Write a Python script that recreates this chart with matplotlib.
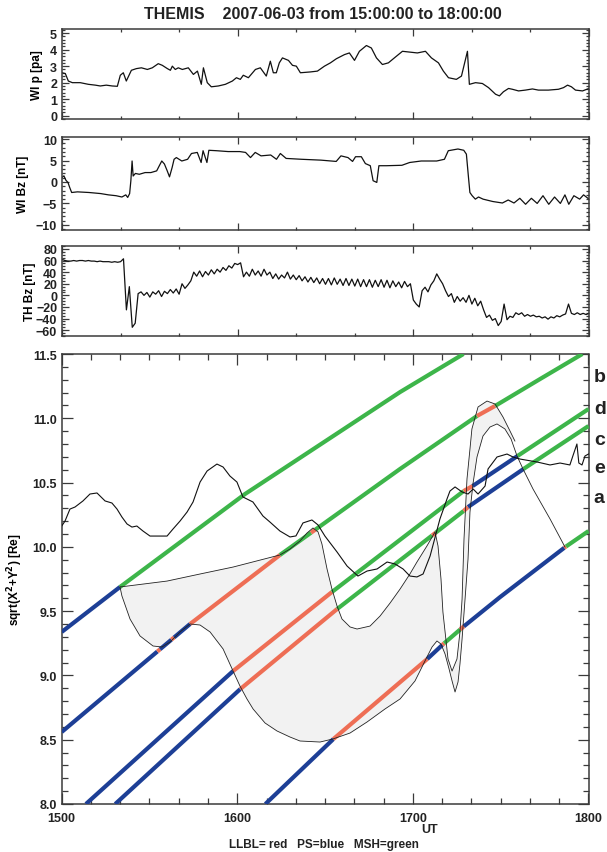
import numpy as np
import matplotlib
matplotlib.use('Agg')
import matplotlib.pyplot as plt
from matplotlib.ticker import MultipleLocator, FixedLocator

plt.rcParams['font.family'] = ['Liberation Sans', 'DejaVu Sans']
plt.rcParams['font.weight'] = 'bold'
plt.rcParams['axes.labelweight'] = 'bold'
plt.rcParams['mathtext.default'] = 'bf'
plt.rcParams['text.color'] = '#222222'
plt.rcParams['xtick.color'] = '#3a3a3a'
plt.rcParams['ytick.color'] = '#3a3a3a'
plt.rcParams['xtick.labelcolor'] = '#222222'
plt.rcParams['ytick.labelcolor'] = '#222222'

# ---------------- data (UT in decimal hours) ----------------
# Wind dynamic pressure [nPa]
p_t = [15.000, 15.019, 15.036, 15.059, 15.104, 15.150, 15.190, 15.218, 15.252, 15.286,
       15.315, 15.332, 15.349, 15.366, 15.395, 15.423, 15.452, 15.486, 15.514, 15.548,
       15.571, 15.600, 15.617, 15.628, 15.645, 15.662, 15.685, 15.719, 15.748, 15.771,
       15.793, 15.805, 15.827, 15.850, 15.890, 15.930, 15.970, 15.993, 16.015, 16.032,
       16.061, 16.101, 16.129, 16.163, 16.186, 16.203, 16.220, 16.237, 16.255, 16.289,
       16.312, 16.334, 16.357, 16.414, 16.454, 16.494, 16.528, 16.562, 16.608, 16.636,
       16.665, 16.693, 16.733, 16.761, 16.790, 16.824, 16.858, 16.892, 16.938, 17.023,
       17.069, 17.103, 17.143, 17.171, 17.200, 17.245, 17.274, 17.308, 17.319, 17.354,
       17.393, 17.428, 17.468, 17.490, 17.513, 17.542, 17.564, 17.599, 17.638, 17.678,
       17.712, 17.769, 17.826, 17.855, 17.878, 17.900, 17.923, 17.963, 18.000]
p_val = [2.6, 2.55, 2.1, 2.0, 2.0, 1.9, 1.85, 1.8, 1.85, 1.8,
         1.78, 2.45, 2.6, 2.1, 2.75, 2.85, 2.9, 2.8, 2.9, 3.15,
         3.05, 2.85, 2.75, 3.0, 2.8, 2.9, 2.8, 2.9, 2.5, 2.7,
         1.9, 2.9, 2.0, 1.75, 1.8, 1.9, 2.1, 2.3, 2.2, 2.45,
         2.3, 2.8, 2.9, 2.4, 3.3, 2.6, 2.6, 3.2, 3.5, 3.35,
         3.05, 3.0, 2.6, 2.65, 2.7, 3.0, 3.2, 3.45, 3.7, 3.8,
         3.35, 3.9, 4.25, 4.1, 3.5, 3.1, 3.2, 3.5, 3.9, 3.8,
         3.9, 3.5, 3.2, 2.7, 2.3, 2.2, 2.4, 3.9, 1.9, 2.0,
         1.95, 1.7, 1.3, 1.2, 1.45, 1.65, 1.6, 1.5, 1.55, 1.62,
         1.55, 1.55, 1.6, 1.7, 1.85, 1.75, 1.55, 1.5, 1.65]

# Wind Bz [nT]
wbz_t = [15.000, 15.011, 15.022, 15.034, 15.044, 15.055, 15.088, 15.154, 15.220, 15.264,
         15.308, 15.341, 15.363, 15.374, 15.385, 15.392, 15.399, 15.405, 15.418, 15.440,
         15.473, 15.506, 15.539, 15.554, 15.568, 15.583, 15.599, 15.612, 15.627, 15.638,
         15.651, 15.682, 15.715, 15.737, 15.770, 15.792, 15.803, 15.825, 15.836, 15.880,
         15.946, 16.012, 16.045, 16.073, 16.100, 16.133, 16.188, 16.221, 16.243, 16.276,
         16.364, 16.474, 16.561, 16.588, 16.628, 16.654, 16.671, 16.704, 16.727, 16.755,
         16.771, 16.792, 16.804, 16.847, 16.935, 16.979, 17.045, 17.133, 17.177, 17.199,
         17.254, 17.287, 17.302, 17.314, 17.322, 17.335, 17.353, 17.371, 17.397, 17.452,
         17.507, 17.540, 17.573, 17.606, 17.639, 17.672, 17.705, 17.738, 17.771, 17.804,
         17.837, 17.863, 17.885, 17.914, 17.947, 17.969, 18.000]
wbz_val = [1.05, 1.44, 0.43, -0.12, -1.3, -2.45, -2.3, -2.45, -2.7, -3.0,
           -3.2, -3.5, -3.0, -3.6, -2.7, 0.3, 4.9, 1.4, 2.0, 1.8,
           2.2, 2.2, 2.6, 3.8, 4.9, 4.2, 2.6, 1.2, 3.4, 5.3,
           5.7, 4.9, 5.3, 6.65, 6.9, 4.55, 7.3, 4.55, 7.4, 7.3,
           7.1, 7.1, 6.9, 5.7, 6.9, 6.1, 6.3, 5.3, 6.65, 5.5,
           5.3, 5.1, 4.8, 6.1, 5.7, 4.8, 5.9, 5.9, 4.3, 3.8,
           0.3, -0.1, 3.8, 3.8, 3.9, 4.55, 4.9, 4.9, 5.3, 7.3,
           7.7, 7.4, 6.5, 1.05, -2.45, -3.2, -4.0, -3.5, -4.0, -4.55,
           -4.9, -4.2, -4.9, -3.8, -5.2, -3.8, -5.0, -3.2, -5.2, -3.5,
           -5.0, -3.0, -5.2, -3.2, -4.0, -3.0, -4.0]

# THEMIS Bz [nT], 1-min samples from 15:00
thbz_val = [62, 60, 59, 59, 60, 59, 60, 60, 59, 60, 59, 59, 58, 59, 58, 58, 58, 57, 58, 57, 58,
            63, -25, 15, -55, -48, 3, 6, 0, 5, -3,
            6, 2, 8, -2, 7, 3, 10, 4, 11, 2,
            20, 12, 18, 25, 40, 33, 42, 32, 41, 35,
            44, 37, 45, 40, 48, 43, 51, 47, 55, 53,
            56, 32, 40, 33, 45, 35, 42, 33, 45, 35,
            40, 29, 37, 28, 35, 30, 40, 28, 35, 27,
            34, 25, 32, 23, 31, 22, 30, 20, 29, 19,
            29, 18, 30, 19, 28, 17, 29, 17, 28, 16,
            28, 15, 27, 15, 27, 14, 26, 15, 27, 14,
            26, 13, 25, 15, 23, 13, 24, 15, 20, -8,
            -15, -20, 8, 14, 6, 18, 25, 37, 28, 20,
            8, -2, 3, -12, -2, -10, -4, -12, 0, -15,
            -5, -18, -10, -25, -38, -34, -43, -40, -52, -45,
            -15, -42, -36, -38, -30, -33, -30, -36, -33, -36,
            -34, -37, -36, -39, -37, -41, -37, -39, -35, -37,
            -34, -32, -15, -31, -33, -30, -33, -31, -33, -31]
thbz_t = 15 + np.arange(len(thbz_val)) / 60.0

# model boundary (thin wiggly curve) [Re]
model_t = [15.000, 15.019, 15.047, 15.076, 15.121, 15.161, 15.201, 15.218, 15.247, 15.286,
           15.315, 15.343, 15.372, 15.400, 15.428, 15.463, 15.503, 15.600, 15.634, 15.674,
           15.714, 15.748, 15.788, 15.828, 15.884, 15.919, 15.958, 15.998, 16.032, 16.089,
           16.146, 16.186, 16.243, 16.300, 16.334, 16.374, 16.425, 16.460, 16.499, 16.568,
           16.625, 16.687, 16.739, 16.796, 16.853, 16.898, 16.944, 16.983, 17.023, 17.058,
           17.098, 17.154, 17.194, 17.211, 17.240, 17.280, 17.314, 17.343, 17.371, 17.411,
           17.428, 17.479, 17.536, 17.570, 17.610, 17.707, 17.781, 17.838, 17.894, 17.911,
           17.934, 17.945, 17.963, 17.980, 18.000]
model_r = [10.162, 10.201, 10.294, 10.310, 10.357, 10.411, 10.419, 10.396, 10.357, 10.341,
           10.294, 10.232, 10.178, 10.154, 10.162, 10.123, 10.084, 10.084, 10.139, 10.201,
           10.271, 10.349, 10.504, 10.590, 10.644, 10.621, 10.551, 10.504, 10.388, 10.349,
           10.240, 10.193, 10.123, 10.077, 10.085, 10.186, 10.209, 10.170, 10.084, 9.960,
           9.851, 9.773, 9.812, 9.828, 9.882, 9.867, 9.828, 9.773, 9.766, 9.789,
           9.929, 10.217, 10.372, 10.434, 10.466, 10.427, 10.411, 10.450, 10.411, 10.473,
           10.606, 10.699, 10.722, 10.699, 10.683, 10.660, 10.637, 10.652, 10.637, 10.707,
           10.800, 10.652, 10.637, 10.707, 10.722]

# outer LLBL edge (magnetopause)
mp_t = [15.332, 15.600, 15.788, 15.976, 16.243, 16.300, 16.357, 16.397, 16.431, 16.460,
        16.482, 16.511, 16.539, 16.568, 16.596, 16.642, 16.682, 16.756, 16.813, 16.870,
        16.927, 16.983, 17.023, 17.080, 17.126, 17.143, 17.160, 17.171, 17.200, 17.223,
        17.251, 17.268, 17.280, 17.291, 17.308, 17.325, 17.336, 17.371, 17.422, 17.468,
        17.513, 17.553, 17.581]
mp_r = [9.688, 9.734, 9.789, 9.843, 9.937, 9.983, 10.046, 10.108, 10.147, 10.116,
        10.022, 9.828, 9.672, 9.540, 9.439, 9.377, 9.361, 9.384, 9.462, 9.563,
        9.672, 9.789, 9.882, 10.007, 10.116, 10.007, 9.750, 9.493, 9.128, 9.034,
        9.128, 9.338, 9.594, 10.061, 10.528, 10.761, 10.917, 11.088, 11.134, 11.111,
        11.010, 10.901, 10.823]

# inner LLBL edge
ib_t = [15.332, 15.343, 15.389, 15.446, 15.520, 15.571, 15.617, 15.674, 15.731, 15.788,
        15.845, 15.919, 15.976, 16.015, 16.055, 16.090, 16.158, 16.226, 16.300, 16.357,
        16.471, 16.545, 16.642, 16.739, 16.841, 16.927, 17.012, 17.080, 17.109, 17.137,
        17.160, 17.183, 17.206, 17.223, 17.240, 17.257, 17.268, 17.280, 17.297, 17.314,
        17.325, 17.342, 17.365, 17.399, 17.439, 17.479, 17.524, 17.559, 17.593, 17.627,
        17.684, 17.781, 17.866]
ib_r = [9.688, 9.618, 9.439, 9.307, 9.229, 9.221, 9.260, 9.338, 9.400, 9.392,
        9.338, 9.206, 9.034, 8.918, 8.817, 8.739, 8.630, 8.568, 8.521, 8.490,
        8.482, 8.506, 8.552, 8.638, 8.739, 8.817, 8.957, 9.143, 9.221, 9.268,
        9.244, 9.167, 9.050, 8.957, 8.871, 8.949, 9.089, 9.283, 9.594, 9.906,
        10.271, 10.489, 10.699, 10.862, 10.932, 10.956, 10.917, 10.839, 10.707, 10.606,
        10.450, 10.217, 9.999]

# spacecraft tracks: radial distance and region boundaries
b_t = [15.000, 15.332, 16.044, 16.927, 17.288]
b_r = [9.338, 9.688, 10.411, 11.204, 11.500]
b_edges = [15.000, 15.332, 17.288]
b_regions = ['PS', 'MSH']

d_t = [15.000, 15.731, 16.243, 16.927, 17.365, 17.468, 17.725, 17.965]
d_r = [8.560, 9.400, 9.937, 10.606, 11.018, 11.096, 11.306, 11.500]
d_edges = [15.000, 15.545, 15.56, 15.625, 15.64, 15.731, 16.243, 16.42, 16.445, 17.365, 17.468, 17.965]
d_regions = ['PS', 'LLBL', 'PS', 'LLBL', 'PS', 'LLBL', 'MSH', 'LLBL', 'MSH', 'LLBL', 'MSH']

c_t = [15.138, 15.976, 16.539, 17.289, 17.340, 17.596, 18.000]
c_r = [8.000, 9.034, 9.649, 10.434, 10.473, 10.707, 11.072]
c_edges = [15.138, 15.976, 16.539, 17.289, 17.340, 17.596, 18.000]
c_regions = ['PS', 'LLBL', 'MSH', 'LLBL', 'PS', 'MSH']

e_t = [15.305, 16.017, 16.569, 17.120, 17.289, 17.314, 17.630, 18.000]
e_r = [8.000, 8.894, 9.517, 10.100, 10.279, 10.310, 10.606, 10.940]
e_edges = [15.305, 16.017, 16.569, 17.11, 17.13, 17.289, 17.314, 17.630, 18.000]
e_regions = ['PS', 'LLBL', 'MSH', 'LLBL', 'MSH', 'LLBL', 'PS', 'MSH']

a_t = [16.160, 16.547, 17.082, 17.173, 17.286, 17.497, 17.868, 18.000]
a_r = [8.000, 8.505, 9.128, 9.244, 9.377, 9.610, 9.999, 10.123]
a_edges = [16.160, 16.547, 17.082, 17.168, 17.178, 17.269, 17.29, 17.862, 17.872, 18.000]
a_regions = ['PS', 'LLBL', 'PS', 'LLBL', 'MSH', 'LLBL', 'PS', 'LLBL', 'MSH']

probe_names = ['b', 'd', 'c', 'e', 'a']
region_colors = {'LLBL': '#ee6e55', 'PS': '#1d3f96', 'MSH': '#3db54a'}

# ---------------- figure ----------------
W, H = 607, 853
fig = plt.figure(figsize=(W / 100, H / 100), dpi=100)


def box(x0, y0, x1, y1):
    return fig.add_axes([x0 / W, 1 - y1 / H, (x1 - x0) / W, (y1 - y0) / H])


def style_axes(ax, major_len, minor_len):
    for s in ax.spines.values():
        s.set_linewidth(1.1)
        s.set_color('#3a3a3a')
    ax.tick_params(which='both', direction='in', top=True, right=True, width=0.9)
    ax.tick_params(which='major', length=major_len, labelsize=9)
    ax.tick_params(which='minor', length=minor_len)


hours = [15, 16, 17, 18]

ax1 = box(62, 30, 589, 120)
ax1.plot(p_t, p_val, color='#111111', lw=0.9)
ax1.set_ylim(-0.2, 5.25)
ax1.yaxis.set_major_locator(FixedLocator([0, 1, 2, 3, 4, 5]))
ax1.yaxis.set_minor_locator(MultipleLocator(0.2))
ax1.set_ylabel('WI p [pa]', fontsize=8.5)

ax2 = box(62, 138, 589, 231)
ax2.plot(wbz_t, wbz_val, color='#111111', lw=0.9)
ax2.set_ylim(-11.2, 10.5)
ax2.yaxis.set_major_locator(FixedLocator([-10, -5, 0, 5, 10]))
ax2.yaxis.set_minor_locator(MultipleLocator(1))
ax2.set_ylabel('WI Bz [nT]', fontsize=8.5)

ax3 = box(62, 247, 589, 337)
ax3.plot(thbz_t, thbz_val, color='#111111', lw=0.9)
ax3.set_ylim(-70, 85)
ax3.yaxis.set_major_locator(FixedLocator(list(range(-60, 81, 20))))
ax3.yaxis.set_minor_locator(MultipleLocator(5))
ax3.set_ylabel('TH Bz [nT]', fontsize=8.5)

for ax, lx in ((ax1, -0.036), (ax2, -0.062), (ax3, -0.05)):
    ax.set_xlim(15, 18)
    ax.xaxis.set_major_locator(FixedLocator(hours))
    ax.xaxis.set_minor_locator(MultipleLocator(1 / 3))
    ax.set_xticklabels([])
    style_axes(ax, 5, 2.5)
    ax.yaxis.set_label_coords(lx, 0.5)

# ---------------- radial distance panel ----------------
ax4 = box(61.7, 355, 588.5, 805)
poly_t = mp_t + [t for t in ib_t[::-1] if t <= mp_t[-1]]
poly_r = mp_r + [r for t, r in zip(ib_t[::-1], ib_r[::-1]) if t <= mp_t[-1]]
ax4.fill(poly_t, poly_r, color='#f2f2f2', lw=0, zorder=1)


def draw_track(t, r, edges, regions):
    t = np.asarray(t)
    r = np.asarray(r)
    for t0, t1, reg in zip(edges[:-1], edges[1:], regions):
        inside = (t > t0) & (t < t1)
        tt = np.concatenate([[t0], t[inside], [t1]])
        ax4.plot(tt, np.interp(tt, t, r), color=region_colors[reg], lw=3.0,
                 solid_capstyle='butt', zorder=3)


draw_track(b_t, b_r, b_edges, b_regions)
draw_track(d_t, d_r, d_edges, d_regions)
draw_track(c_t, c_r, c_edges, c_regions)
draw_track(e_t, e_r, e_edges, e_regions)
draw_track(a_t, a_r, a_edges, a_regions)

ax4.plot(mp_t, mp_r, color='#222222', lw=0.6, zorder=4)
ax4.plot(ib_t, ib_r, color='#222222', lw=0.6, zorder=4)
ax4.plot(model_t, model_r, color='#111111', lw=0.8, zorder=4)

ax4.set_xlim(15, 18)
ax4.set_ylim(8.0, 11.5)
ax4.xaxis.set_major_locator(FixedLocator(hours))
ax4.xaxis.set_minor_locator(MultipleLocator(1 / 6))
ax4.set_xticklabels(['%d00' % h for h in hours])
ax4.yaxis.set_major_locator(MultipleLocator(0.5))
ax4.yaxis.set_minor_locator(MultipleLocator(0.1))
ax4.yaxis.set_major_formatter(matplotlib.ticker.FormatStrFormatter('%.1f'))
style_axes(ax4, 8, 4)
ax4.tick_params(axis='x', pad=6)
ax4.set_ylabel(r'sqrt(X$^2$+Y$^2$) [Re]', fontsize=8.5)
ax4.yaxis.set_label_coords(-0.07, 0.5)

label_y = [0.949, 0.878, 0.811, 0.747, 0.680]
for name, yy in zip(probe_names, label_y):
    ax4.text(1.01, yy, name, transform=ax4.transAxes, fontsize=14,
             fontweight='bold', ha='left', va='center')

fig.text(0.532, 0.983, 'THEMIS    2007-06-03 from 15:00:00 to 18:00:00',
         ha='center', va='center', fontsize=11.5, fontweight='bold')
fig.text(0.707, 0.027, 'UT', ha='center', va='center', fontsize=9, fontweight='bold')
fig.text(0.534, 0.0095, 'LLBL= red   PS=blue   MSH=green', ha='center', va='center',
         fontsize=8.5, fontweight='bold')

fig.savefig('out.png', dpi=100)
